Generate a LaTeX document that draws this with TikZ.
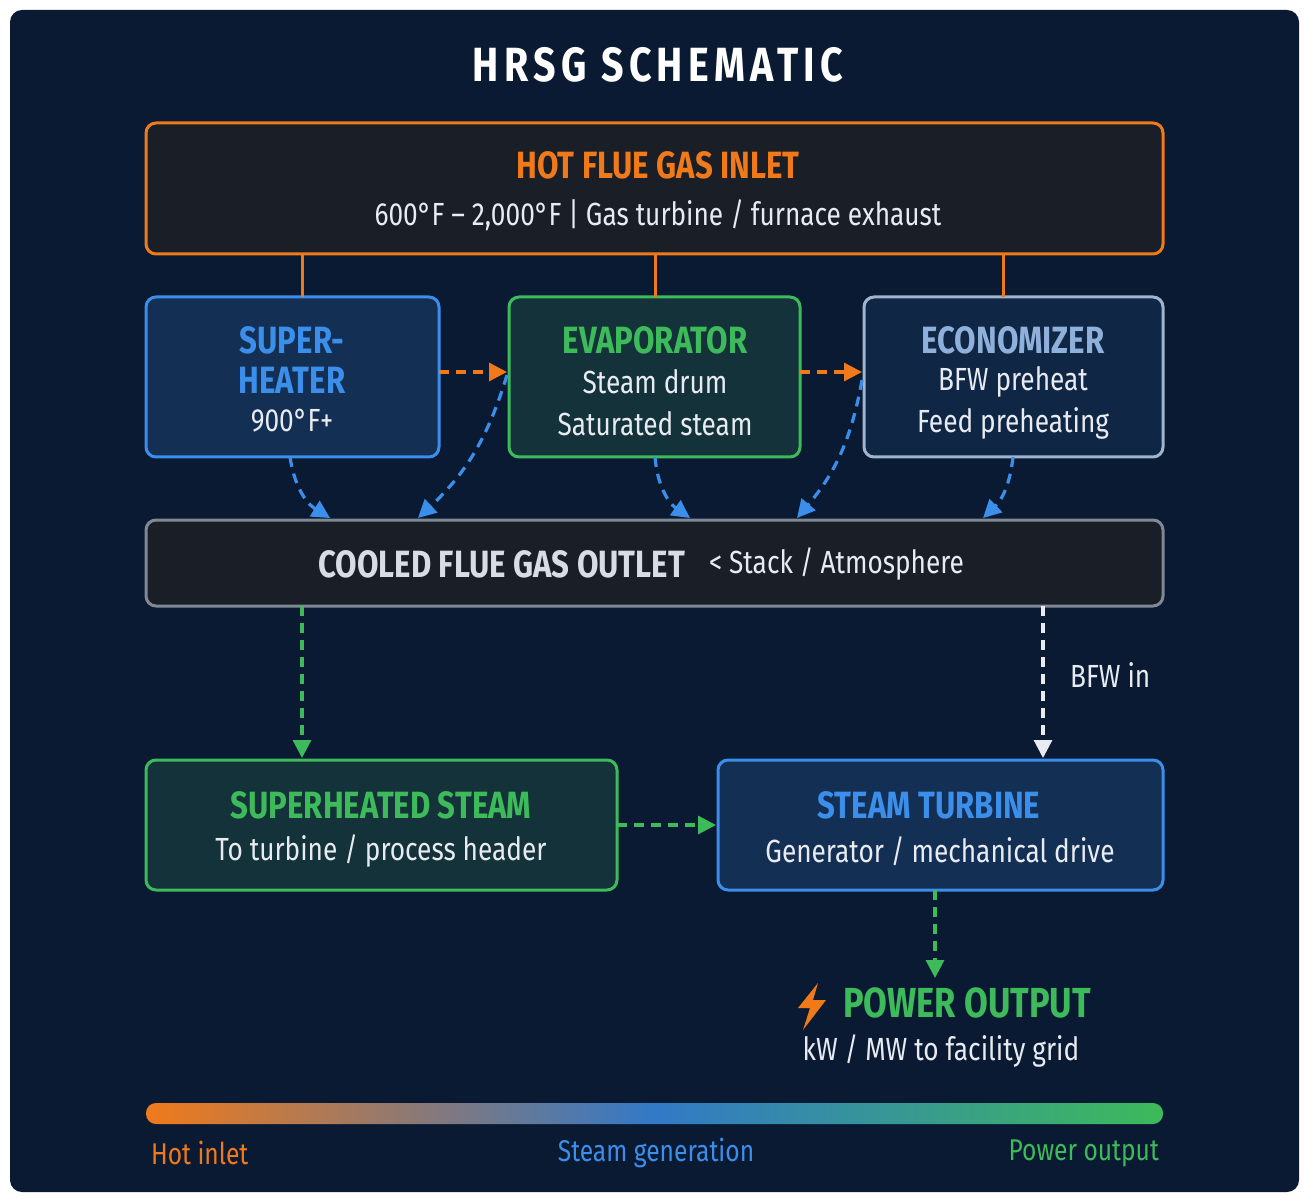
\documentclass[tikz,border=0pt]{standalone}
\usepackage{fontspec}
\setmainfont[FakeStretch=0.82]{Fira Sans}
\newfontfamily\titlefont[FakeStretch=0.82,LetterSpace=11]{Fira Sans}
\usetikzlibrary{arrows.meta,shadings}
\definecolor{bg}{HTML}{0B1A33}
\definecolor{org}{HTML}{F07A1A}
\definecolor{blu}{HTML}{3B8EEA}
\definecolor{grn}{HTML}{3DBA5A}
\definecolor{eco}{HTML}{9FB4CE}
\definecolor{ecot}{HTML}{8FB0DA}
\definecolor{gry}{HTML}{7F8893}
\definecolor{txt}{HTML}{E8ECF2}
\definecolor{dk}{HTML}{1A1F27}
\tikzset{
 box/.style={draw,line width=1.5pt,rounded corners=5pt},
 ttl/.style={font=\fontsize{19}{21}\selectfont\bfseries},
 sub/.style={font=\fontsize{16}{18}\selectfont,text=txt},
 dsh/.style={line width=1.6pt,dash pattern=on 5pt off 3.5pt,-{Triangle[length=9pt,width=9pt]}},
}
\begin{document}
\begin{tikzpicture}[x=0.5pt,y=-0.5pt]
\useasboundingbox (0,0) rectangle (1309,1202);
\fill[white] (0,0) rectangle (1309,1202);
\fill[bg,rounded corners=6pt] (10,10) rectangle (1299,1192);
\node[font=\titlefont\fontsize{24}{26}\selectfont\bfseries,text=white] (title) at (658,65) {HRSG SCHEMATIC};
% boxes
\draw[box,org,fill=dk] (146,123) rectangle (1163,254);
\node[ttl,text=org] (hot) at (658,165) {HOT FLUE GAS INLET};
\node[sub] (hots) at (658,215) {600°F – 2,000°F | Gas turbine / furnace exhaust};
\draw[box,blu,fill=blu!18!bg] (146,297) rectangle (439,457);
\node[ttl,text=blu,align=center] (sh) at (292,360) {SUPER-\\[-1pt]HEATER};
\node[sub] (shs) at (292,421) {900°F+};
\draw[box,grn,fill=grn!15!bg] (509,297) rectangle (800,457);
\node[ttl,text=grn] (ev) at (655,340) {EVAPORATOR};
\node[sub,align=center] (evs) at (655,403) {Steam drum\\[3pt]Saturated steam};
\draw[box,eco,fill=blu!10!bg] (864,297) rectangle (1163,457);
\node[ttl,text=ecot] (ec) at (1013,340) {ECONOMIZER};
\node[sub,align=center] (ecs) at (1013,403) {BFW preheat\\[3pt]Feed preheating};
\draw[box,gry,fill=dk] (146,520) rectangle (1163,606);
\node[ttl,text=txt!85!gry,anchor=east] (co) at (692,564) {COOLED FLUE GAS OUTLET};
\node[sub,anchor=west] (cos) at (702,564) {< Stack / Atmosphere};
\draw[box,grn,fill=grn!15!bg] (146,760) rectangle (617,890);
\node[ttl,text=grn] (ss) at (381,805) {SUPERHEATED STEAM};
\node[sub] (sss) at (381,851) {To turbine / process header};
\draw[box,blu,fill=blu!18!bg] (718,760) rectangle (1163,890);
\node[ttl,text=blu] (st) at (929,805) {STEAM TURBINE};
\node[sub] (sts) at (940,851) {Generator / mechanical drive};
% power output
\fill[org] (818,983) -- (798,1008) -- (810,1008) -- (803,1030) -- (826,1000) -- (813,1000) -- cycle;
\node[font=\fontsize{21}{23}\selectfont\bfseries,text=grn] (po) at (967,1003) {POWER OUTPUT};
\node[sub] (pos) at (941,1051) {kW / MW to facility grid};
% connectors
\foreach \x in {302,655,1003} \draw[org,line width=1.5pt] (\x,254) -- (\x,297);
\draw[dsh,org] (439,372) -- (507,372);
\draw[dsh,org] (800,372) -- (862,372);
\draw[dsh,blu] (290,457) to[bend right=25] (330,518);
\draw[dsh,blu] (507,375) to[bend left=15] (418,518);
\draw[dsh,blu] (655,457) to[bend right=25] (690,518);
\draw[dsh,blu] (862,380) to[bend left=15] (797,518);
\draw[dsh,blu] (1013,457) to[bend left=20] (983,518);
\draw[dsh,grn] (302,606) -- (302,758);
\draw[dsh,txt] (1043,606) -- (1043,758);
\node[sub,anchor=west] (bfw) at (1063,675) {BFW in};
\draw[dsh,grn] (617,825) -- (716,825);
\draw[dsh,grn] (935,890) -- (935,978);
% gradient bar
\shade[left color=org,right color=grn,middle color=blu!85!black,rounded corners=5pt] (146,1103) rectangle (1163,1124);
\node[font=\fontsize{15}{17}\selectfont,text=org,anchor=west] (l1) at (144,1153) {Hot inlet};
\node[font=\fontsize{15}{17}\selectfont,text=blu] (l2) at (656,1153) {Steam generation};
\node[font=\fontsize{15}{17}\selectfont,text=grn,anchor=east] (l3) at (1166,1153) {Power output};
\end{tikzpicture}
\end{document}
